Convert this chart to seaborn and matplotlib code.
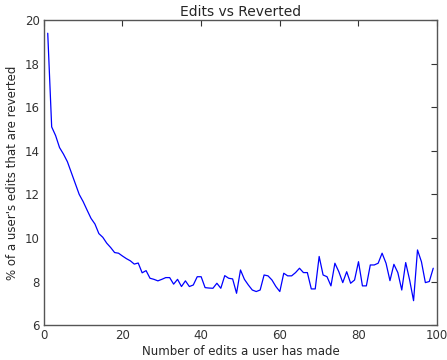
import matplotlib
matplotlib.use("Agg")
import matplotlib.pyplot as plt
import seaborn as sns
import pandas as pd

edits = list(range(1, 100))
reverted_pct = [
    19.4, 15.1, 14.7, 14.15, 13.85, 13.5, 13.0, 12.5, 12.0, 11.67,
    11.28, 10.9, 10.64, 10.2, 10.03, 9.76, 9.56, 9.33, 9.3, 9.17,
    9.05, 8.95, 8.8, 8.85, 8.4, 8.5, 8.15, 8.1, 8.03, 8.1,
    8.18, 8.18, 7.88, 8.1, 7.77, 8.03, 7.77, 7.84, 8.22, 8.22,
    7.72, 7.7, 7.69, 7.92, 7.69, 8.27, 8.15, 8.12, 7.46, 8.53,
    8.1, 7.84, 7.61, 7.54, 7.61, 8.3, 8.26, 8.07, 7.77, 7.54,
    8.38, 8.26, 8.26, 8.41, 8.61, 8.41, 8.41, 7.66, 7.66, 9.15,
    8.3, 8.22, 7.8, 8.84, 8.45, 7.95, 8.45, 7.92, 8.07, 8.91,
    7.8, 7.8, 8.76, 8.76, 8.84, 9.3, 8.84, 8.04, 8.79, 8.41,
    7.61, 8.87, 8.07, 7.12, 9.45, 8.91, 7.95, 8.0, 8.61,
]
x_ticks = [0, 20, 40, 60, 80, 100]
y_ticks = [6, 8, 10, 12, 14, 16, 18, 20]
title = "Edits vs Reverted"
x_label = "Number of edits a user has made"
y_label = "% of a user's edits that are reverted"

df = pd.DataFrame({"edits": edits, "pct": reverted_pct})

sns.set_style("white")
plt.rcParams["font.family"] = ["DejaVu Sans"]

fig = plt.figure(figsize=(4.47, 3.6), dpi=100)
ax = fig.add_axes([0.098, 0.097, 0.880, 0.847])
sns.lineplot(data=df, x="edits", y="pct", ax=ax, color="#0000ff", linewidth=0.9)

ax.set_xlim(0, 100)
ax.set_ylim(6, 20)
ax.set_xticks(x_ticks)
ax.set_yticks(y_ticks)
ax.set_title(title, fontsize=10, pad=3)
ax.set_xlabel(x_label, fontsize=8.5, labelpad=2)
ax.set_ylabel(y_label, fontsize=8.5, labelpad=4)
ax.tick_params(direction="in", length=4, width=0.8, colors="#333333", labelsize=8.5,
               top=True, right=True, pad=3)
for s in ax.spines.values():
    s.set_color("#555555")
    s.set_linewidth(1.0)

fig.savefig("out.png", dpi=100)
